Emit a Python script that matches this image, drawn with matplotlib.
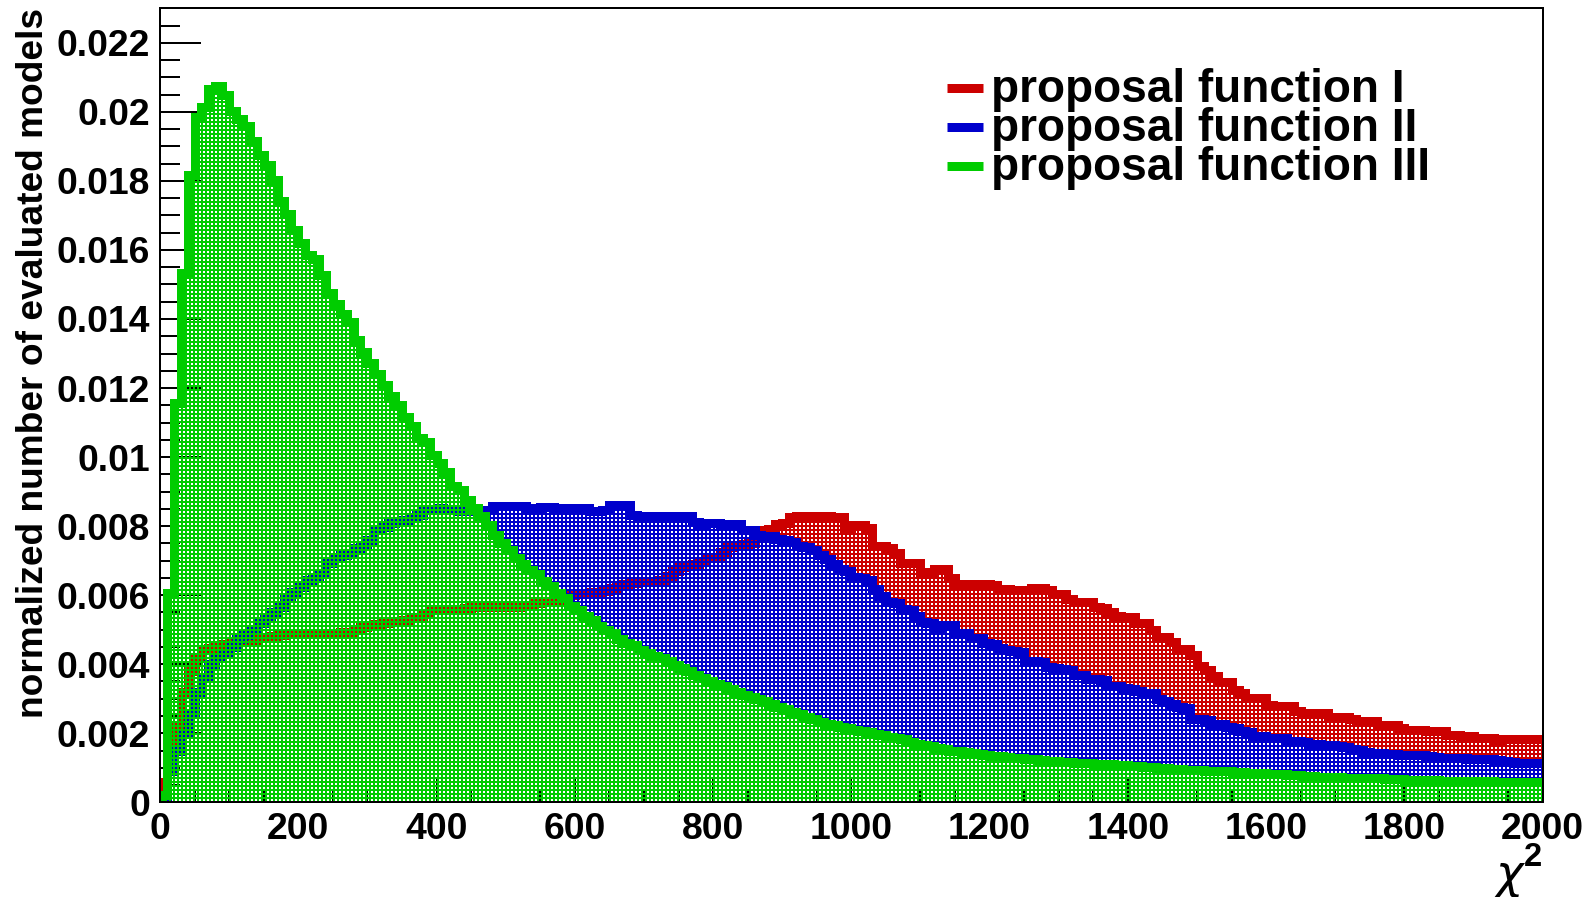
import numpy as np
import matplotlib
matplotlib.use("Agg")
import matplotlib.pyplot as plt
from matplotlib.lines import Line2D
from matplotlib.ticker import MultipleLocator, FuncFormatter

plt.rcParams['font.family'] = ['Liberation Sans', 'DejaVu Sans']
plt.rcParams['font.weight'] = 'bold'
plt.rcParams['hatch.linewidth'] = 1.2

# ---------------- data (200 bins of width 10 in chi^2) ----------------
bin_edges = np.linspace(0, 2000, 201)

labels = ["proposal function I", "proposal function II", "proposal function III"]

red = [
 0.00060, 0.00140, 0.00225, 0.00320, 0.00380, 0.00420, 0.00440, 0.00448, 0.00455, 0.00458,
 0.00461, 0.00463, 0.00467, 0.00470, 0.00475, 0.00480, 0.00482, 0.00485, 0.00487, 0.00488,
 0.00490, 0.00490, 0.00490, 0.00489, 0.00490, 0.00491, 0.00492, 0.00494, 0.00500, 0.00509,
 0.00512, 0.00516, 0.00519, 0.00521, 0.00523, 0.00528, 0.00533, 0.00538, 0.00548, 0.00557,
 0.00557, 0.00557, 0.00558, 0.00560, 0.00562, 0.00565, 0.00567, 0.00567, 0.00566, 0.00567,
 0.00567, 0.00567, 0.00570, 0.00572, 0.00576, 0.00580, 0.00581, 0.00582, 0.00590, 0.00600,
 0.00606, 0.00606, 0.00608, 0.00610, 0.00612, 0.00620, 0.00628, 0.00632, 0.00635, 0.00637,
 0.00640, 0.00642, 0.00645, 0.00655, 0.00670, 0.00681, 0.00684, 0.00690, 0.00700, 0.00708,
 0.00712, 0.00725, 0.00740, 0.00746, 0.00748, 0.00752, 0.00768, 0.00788, 0.00793, 0.00806,
 0.00810, 0.00826, 0.00829, 0.00828, 0.00828, 0.00828, 0.00828, 0.00825, 0.00825, 0.00796,
 0.00803, 0.00803, 0.00794, 0.00742, 0.00742, 0.00738, 0.00721, 0.00694, 0.00694, 0.00694,
 0.00665, 0.00668, 0.00675, 0.00675, 0.00651, 0.00633, 0.00633, 0.00631, 0.00631, 0.00631,
 0.00630, 0.00617, 0.00617, 0.00616, 0.00614, 0.00614, 0.00622, 0.00622, 0.00614, 0.00604,
 0.00604, 0.00588, 0.00581, 0.00581, 0.00580, 0.00566, 0.00564, 0.00552, 0.00540, 0.00537,
 0.00537, 0.00520, 0.00520, 0.00498, 0.00479, 0.00479, 0.00465, 0.00443, 0.00443, 0.00428,
 0.00395, 0.00382, 0.00366, 0.00349, 0.00349, 0.00324, 0.00317, 0.00303, 0.00303, 0.00303,
 0.00281, 0.00279, 0.00279, 0.00279, 0.00264, 0.00259, 0.00259, 0.00259, 0.00259, 0.00247,
 0.00247, 0.00247, 0.00240, 0.00235, 0.00235, 0.00235, 0.00224, 0.00224, 0.00224, 0.00216,
 0.00209, 0.00209, 0.00209, 0.00206, 0.00206, 0.00206, 0.00195, 0.00195, 0.00192, 0.00192,
 0.00187, 0.00187, 0.00187, 0.00179, 0.00183, 0.00183, 0.00183, 0.00183, 0.00183, 0.00183,
]

blue = [
 0.00005, 0.00090, 0.00150, 0.00200, 0.00255, 0.00320, 0.00362, 0.00400, 0.00418, 0.00432,
 0.00450, 0.00472, 0.00485, 0.00500, 0.00518, 0.00535, 0.00550, 0.00567, 0.00595, 0.00610,
 0.00625, 0.00644, 0.00652, 0.00665, 0.00692, 0.00712, 0.00716, 0.00722, 0.00736, 0.00745,
 0.00760, 0.00788, 0.00798, 0.00808, 0.00812, 0.00819, 0.00826, 0.00833, 0.00846, 0.00850,
 0.00852, 0.00850, 0.00847, 0.00845, 0.00843, 0.00845, 0.00847, 0.00847, 0.00857, 0.00857,
 0.00857, 0.00857, 0.00857, 0.00852, 0.00852, 0.00855, 0.00855, 0.00852, 0.00852, 0.00853,
 0.00852, 0.00852, 0.00845, 0.00844, 0.00846, 0.00862, 0.00862, 0.00861, 0.00832, 0.00829,
 0.00827, 0.00829, 0.00829, 0.00828, 0.00828, 0.00828, 0.00828, 0.00813, 0.00800, 0.00810,
 0.00808, 0.00807, 0.00807, 0.00805, 0.00790, 0.00788, 0.00775, 0.00771, 0.00770, 0.00762,
 0.00760, 0.00755, 0.00742, 0.00740, 0.00730, 0.00715, 0.00704, 0.00689, 0.00675, 0.00670,
 0.00652, 0.00649, 0.00645, 0.00617, 0.00597, 0.00580, 0.00576, 0.00560, 0.00557, 0.00539,
 0.00522, 0.00520, 0.00506, 0.00515, 0.00513, 0.00491, 0.00490, 0.00477, 0.00475, 0.00462,
 0.00460, 0.00448, 0.00440, 0.00438, 0.00436, 0.00410, 0.00408, 0.00407, 0.00392, 0.00390,
 0.00385, 0.00383, 0.00370, 0.00368, 0.00358, 0.00356, 0.00355, 0.00337, 0.00336, 0.00330,
 0.00327, 0.00322, 0.00317, 0.00317, 0.00300, 0.00293, 0.00285, 0.00275, 0.00273, 0.00242,
 0.00240, 0.00238, 0.00228, 0.00226, 0.00218, 0.00216, 0.00206, 0.00205, 0.00192, 0.00191,
 0.00187, 0.00187, 0.00185, 0.00177, 0.00177, 0.00175, 0.00168, 0.00168, 0.00167, 0.00165,
 0.00163, 0.00160, 0.00153, 0.00152, 0.00145, 0.00143, 0.00142, 0.00141, 0.00140, 0.00137,
 0.00137, 0.00137, 0.00136, 0.00134, 0.00131, 0.00129, 0.00129, 0.00127, 0.00127, 0.00126,
 0.00125, 0.00124, 0.00124, 0.00122, 0.00121, 0.00116, 0.00115, 0.00114, 0.00114, 0.00113,
]

green = [
 0.00020, 0.00607, 0.01158, 0.01533, 0.01818, 0.01985, 0.02015, 0.02065, 0.02076, 0.02050,
 0.02002, 0.01978, 0.01958, 0.01915, 0.01876, 0.01847, 0.01804, 0.01743, 0.01705, 0.01659,
 0.01620, 0.01586, 0.01575, 0.01526, 0.01475, 0.01443, 0.01414, 0.01391, 0.01340, 0.01304,
 0.01272, 0.01241, 0.01208, 0.01176, 0.01150, 0.01115, 0.01089, 0.01055, 0.01043, 0.01005,
 0.00983, 0.00958, 0.00915, 0.00905, 0.00876, 0.00852, 0.00828, 0.00804, 0.00775, 0.00751,
 0.00731, 0.00707, 0.00690, 0.00672, 0.00660, 0.00640, 0.00628, 0.00605, 0.00592, 0.00570,
 0.00558, 0.00540, 0.00528, 0.00510, 0.00500, 0.00490, 0.00472, 0.00462, 0.00455, 0.00440,
 0.00432, 0.00425, 0.00418, 0.00408, 0.00398, 0.00390, 0.00380, 0.00368, 0.00360, 0.00352,
 0.00343, 0.00336, 0.00328, 0.00320, 0.00312, 0.00305, 0.00300, 0.00292, 0.00285, 0.00277,
 0.00270, 0.00263, 0.00256, 0.00248, 0.00240, 0.00234, 0.00228, 0.00224, 0.00219, 0.00214,
 0.00210, 0.00206, 0.00203, 0.00199, 0.00194, 0.00190, 0.00187, 0.00182, 0.00176, 0.00170,
 0.00166, 0.00162, 0.00158, 0.00154, 0.00150, 0.00148, 0.00145, 0.00142, 0.00139, 0.00136,
 0.00134, 0.00133, 0.00131, 0.00129, 0.00128, 0.00126, 0.00124, 0.00122, 0.00120, 0.00119,
 0.00118, 0.00117, 0.00115, 0.00114, 0.00113, 0.00112, 0.00112, 0.00110, 0.00108, 0.00107,
 0.00106, 0.00104, 0.00103, 0.00103, 0.00100, 0.00100, 0.00097, 0.00096, 0.00095, 0.00094,
 0.00093, 0.00092, 0.00092, 0.00091, 0.00090, 0.00088, 0.00087, 0.00086, 0.00085, 0.00084,
 0.00082, 0.00081, 0.00081, 0.00080, 0.00078, 0.00076, 0.00075, 0.00074, 0.00074, 0.00073,
 0.00072, 0.00071, 0.00071, 0.00070, 0.00070, 0.00069, 0.00069, 0.00068, 0.00068, 0.00067,
 0.00066, 0.00066, 0.00065, 0.00065, 0.00064, 0.00063, 0.00063, 0.00063, 0.00062, 0.00062,
 0.00061, 0.00061, 0.00061, 0.00060, 0.00060, 0.00059, 0.00059, 0.00059, 0.00058, 0.00058,
]

colors = ['#cc0000', '#0000cc', '#00cc00']

# ---------------- figure ----------------
DPI = 120
W, H = 1596, 897
fig = plt.figure(figsize=(W / DPI, H / DPI), dpi=DPI)
ax = fig.add_axes([160 / W, 1 - 802.3 / H, 1382.7 / W, 794 / H])
ax.set_axisbelow(True)

LW = 5.4
z = 1.0
for vals, col in zip([red, blue, green], colors):
    vals = np.asarray(vals)
    ax.stairs(vals, bin_edges, baseline=0, fill=True, facecolor='none',
              edgecolor=col, linewidth=0, hatch='+++++', zorder=z)
    ax.stairs(vals, bin_edges, baseline=None, edgecolor=col, facecolor='none',
              linewidth=LW, zorder=z + 0.1)
    ax.vlines(bin_edges[0], 0, vals[0], color=col, linewidth=LW, zorder=z + 0.1)
    z += 0.2

ax.set_xlim(0, 2000)
ax.set_ylim(0, 0.023)

ax.xaxis.set_major_locator(MultipleLocator(200))
ax.xaxis.set_minor_locator(MultipleLocator(50))
ax.yaxis.set_major_locator(MultipleLocator(0.002))
ax.yaxis.set_minor_locator(MultipleLocator(0.0005))
fmt = FuncFormatter(lambda v, p: '%g' % round(v, 6))
ax.xaxis.set_major_formatter(fmt)
ax.yaxis.set_major_formatter(fmt)

ax.tick_params(axis='both', which='both', direction='in', width=1.2,
               top=False, right=False, labelsize=22.4, pad=6)
ax.tick_params(axis='y', which='major', length=24.6)
ax.tick_params(axis='y', which='minor', length=12)
ax.tick_params(axis='x', which='major', length=14.4)
ax.tick_params(axis='x', which='minor', length=7.2)
for lab in ax.get_xticklabels() + ax.get_yticklabels():
    lab.set_fontweight('bold')
for sp in ax.spines.values():
    sp.set_linewidth(1.2)

ax.set_ylabel('normalized number of evaluated models', fontsize=22.3,
              fontweight='bold', loc='top')
ax.yaxis.set_label_coords(-0.0788, 1.0)

# x-axis title: chi^2 at the right end
fig.text(1523 / W, 1 - 853 / H, 'χ', ha='right', va='top', fontsize=28,
         family='DejaVu Sans', style='italic', fontweight='normal')
fig.text(1542 / W, 1 - 842 / H, '2', ha='right', va='top', fontsize=19.6,
         fontweight='bold')

# legend (drawn manually to match placement)
for i, (lab, col) in enumerate(zip(labels, colors)):
    yc = 88 + 39 * i
    fig.add_artist(Line2D([947 / W, 983 / W], [1 - yc / H, 1 - yc / H],
                          transform=fig.transFigure, color=col, linewidth=5.4,
                          solid_capstyle='butt'))
    fig.text(991 / W, 1 - (101.7 + 39 * i) / H, lab, fontsize=27.6,
             fontweight='bold', ha='left', va='baseline')

fig.savefig('out.png', dpi=DPI)
